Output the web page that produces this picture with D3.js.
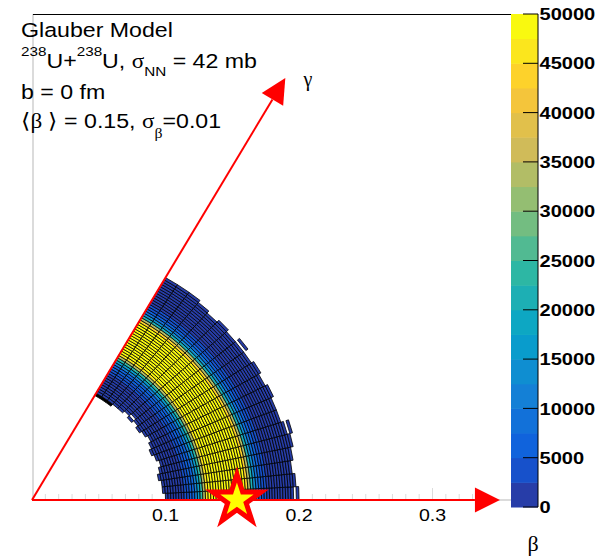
<!DOCTYPE html>
<html><head><meta charset="utf-8">
<script src="https://cdn.jsdelivr.net/npm/d3@7"></script>
<style>body{margin:0;background:#fff} svg{display:block}</style>
</head><body>
<svg id="c" width="597" height="559"></svg>
<script>
// ---------------- data ----------------
const betaBinWidth = 0.002;
const gammaEdges = [0,3,6,9,12,15,18,21,24,27,30,33,36,39,42,45,48,51,54,57,60];
const profileFirstBin = 48;
const betaProfile = [700,800,950,1100,1250,1450,1700,2000,2400,2900,3800,5200,7200,10000,15000,23000,34000,45000,
  53000,58000,62000,66000,69000,71000,72000,72000,71000,69000,66000,63000,59000,54000,
  44000,33000,22000,14000,9000,6000,4000,2800,2200,1900,1650,1450,1300,1150,1050,950,870,800,730,660,600];
const stripStart = [50,49,49,48,49,50,49,48,49,50,49,48,49,50,49,48,48,47,47,47];
const stripEnd   = [97,98,97,98,99,98,97,97,98,97,98,97,97,97,98,97,98,99,99,99];
const extraCells = [[0,99,600],[5,100,500],[12,99,550],[13,48,700]];
const zTicks = [0,5000,10000,15000,20000,25000,30000,35000,40000,45000,50000];
const betaTicks = [0.1,0.2,0.3];
const zMax = 50000, nLevels = 20;
const starPoint = {beta:0.1535, gamma:0};
const betaArrowLen = 0.3505, gammaArrowLen = 0.3795;

// ---------------- palette (kBird) ----------------
const st = [0.0,0.125,0.25,0.375,0.5,0.625,0.75,0.875,1.0];
const rr = [0.2082,0.0592,0.0780,0.0232,0.1802,0.5301,0.8186,0.9956,0.9764];
const gg = [0.1664,0.3599,0.5041,0.6419,0.7178,0.7492,0.7328,0.7862,0.9832];
const bb = [0.5293,0.8684,0.8385,0.7914,0.6425,0.4662,0.3499,0.1968,0.0539];
function bird(t){
  let i=0; while(i<st.length-2 && t>st[i+1]) i++;
  const f=(t-st[i])/(st[i+1]-st[i]);
  const c=a=>Math.round(255*(a[i]+(a[i+1]-a[i])*f));
  return `rgb(${c(rr)},${c(gg)},${c(bb)})`;
}
const levelColor = d3.range(nLevels).map(i=>bird(Math.floor((i+0.99)*255/nLevels)/255));
function colorOf(v){ const l=Math.min(nLevels-1,Math.max(0,Math.floor(v/(zMax/nLevels)))); return levelColor[l]; }

// ---------------- scales ----------------
const svg = d3.select('#c');
const x = d3.scaleLinear().domain([0,0.35]).range([32, 32+0.35*1335]);
const y = d3.scaleLinear().domain([0,0.35]).range([500, 500-0.35*1284]);
const P = (b,gDeg)=>{const a=gDeg*Math.PI/180; return [x(b*Math.cos(a)), y(b*Math.sin(a))];};
const F='Liberation Sans, Arial, sans-serif', G='Liberation Serif, serif';

// frame
svg.append('line').attr('x1',33).attr('x2',33).attr('y1',14).attr('y2',500).attr('stroke','#cfcfcf').attr('stroke-width',1.5);
svg.append('line').attr('x1',33).attr('x2',511).attr('y1',500).attr('y2',500).attr('stroke','#cfcfcf').attr('stroke-width',1.5);
svg.append('line').attr('x1',33).attr('x2',511).attr('y1',14.5).attr('y2',14.5).attr('stroke','#000').attr('stroke-width',1);
const minor = d3.range(0.01,0.35,0.01);
svg.append('g').selectAll('line').data(minor).join('line')
  .attr('x1',d=>x(d)).attr('x2',d=>x(d)).attr('y1',500).attr('y2',d=>Math.abs(d*10-Math.round(d*10))<1e-6?488:494)
  .attr('stroke','#dcdcdc').attr('stroke-width',1);

// cells
const cells=[];
for(let k=0;k<gammaEdges.length-1;k++){
  for(let j=stripStart[k]; j<=stripEnd[k]; j++){
    cells.push({k,j,v:betaProfile[j-profileFirstBin]});
  }
}
extraCells.forEach(([k,j,v])=>cells.push({k,j,v}));
svg.append('g').selectAll('path').data(cells).join('path')
  .attr('d',d=>{
    const b1=d.j*betaBinWidth, b2=(d.j+1)*betaBinWidth, g1=gammaEdges[d.k], g2=gammaEdges[d.k+1];
    return 'M'+[P(b1,g1),P(b2,g1),P(b2,g2),P(b1,g2)].map(p=>p.join(',')).join('L')+'Z';
  })
  .attr('fill',d=>colorOf(d.v)).attr('stroke','#000').attr('stroke-width',0.8);

// arrows
function arrow(len,gDeg){
  const [x0,y0]=P(0,0), [x1,y1]=P(len,gDeg);
  const dx=x1-x0, dy=y1-y0, L=Math.hypot(dx,dy), ux=dx/L, uy=dy/L;
  const hl=25, hw=12.5;
  const bx=x1-ux*hl, by=y1-uy*hl;
  svg.append('line').attr('x1',x0).attr('y1',y0).attr('x2',bx).attr('y2',by).attr('stroke','#ff0000').attr('stroke-width',2);
  svg.append('path').attr('d',`M${x1},${y1}L${bx-uy*hw},${by+ux*hw}L${bx+uy*hw},${by-ux*hw}Z`).attr('fill','#ff0000');
}
arrow(betaArrowLen,0);
arrow(gammaArrowLen,60);

// star
const [sx,sy]=P(starPoint.beta,starPoint.gamma);
const R=25.5, r=R*0.382;
const starPts=d3.range(10).map(i=>{const a=-Math.PI/2+i*Math.PI/5, rad=i%2?r:R; return [sx+rad*Math.cos(a), sy+rad*Math.sin(a)];});
svg.append('path').attr('d','M'+starPts.map(p=>p.join(',')).join('L')+'Z')
  .attr('fill','#ffff00').attr('stroke','#ff0000').attr('stroke-width',5).attr('stroke-linejoin','miter');

// beta tick labels
svg.append('g').selectAll('text').data(betaTicks).join('text')
  .attr('transform',d=>`translate(${x(d)},521) scale(1.15,1)`).attr('text-anchor','middle')
  .attr('font-family',F).attr('font-size',17).text(d=>d.toString());

// axis titles
svg.append('text').attr('x',533).attr('y',551).attr('text-anchor','middle').attr('font-family',G).attr('font-size',22).text('β');
svg.append('text').attr('x',308).attr('y',86).attr('text-anchor','middle').attr('font-family',G).attr('font-size',20).text('γ');

// color bar
const z = d3.scaleLinear().domain([0,zMax]).range([507,14]);
svg.append('g').selectAll('rect').data(d3.range(nLevels)).join('rect')
  .attr('x',511).attr('width',27)
  .attr('y',i=>z((i+1)*zMax/nLevels)).attr('height',i=>z(i*zMax/nLevels)-z((i+1)*zMax/nLevels)+0.5)
  .attr('fill',i=>levelColor[i]);
svg.append('line').attr('x1',538).attr('x2',538).attr('y1',14).attr('y2',507).attr('stroke','#000');
svg.append('g').selectAll('line').data(zTicks).join('line')
  .attr('x1',523).attr('x2',538).attr('y1',d=>z(d)).attr('y2',d=>z(d)).attr('stroke','#000').attr('stroke-width',1);
svg.append('g').selectAll('text').data(zTicks).join('text')
  .attr('transform',d=>`translate(539.5,${z(d)}) scale(1.18,1)`).attr('dy','0.36em')
  .attr('font-family',F).attr('font-weight','bold').attr('font-size',17)
  .text(d=>d.toString());

// title block
const tg = svg.append('g').attr('transform','translate(21,0) scale(1.13,1)').attr('font-family',F).attr('font-size',20.5);
tg.append('text').attr('x',0).attr('y',37).text('Glauber Model');
const t2=tg.append('text').attr('x',0).attr('y',68);
t2.append('tspan').attr('font-size',13.5).attr('dy',-12).text('238');
t2.append('tspan').attr('dy',12).text('U+');
t2.append('tspan').attr('font-size',13.5).attr('dy',-12).text('238');
t2.append('tspan').attr('dy',12).text('U, ');
t2.append('tspan').attr('font-family',G).text('σ');
t2.append('tspan').attr('font-size',13.5).attr('dy',8).text('NN');
t2.append('tspan').attr('dy',-8).text(' = 42 mb');
tg.append('text').attr('x',0).attr('y',99).text('b = 0 fm');
const t4=tg.append('text').attr('x',0).attr('y',128);
t4.append('tspan').attr('font-family',G).text('⟨β ⟩');
t4.append('tspan').text(' = 0.15, ');
t4.append('tspan').attr('font-family',G).text('σ');
t4.append('tspan').attr('font-family',G).attr('font-size',14).attr('dy',10).text('β');
t4.append('tspan').attr('dy',-10).text('=0.01');
</script>
</body></html>
